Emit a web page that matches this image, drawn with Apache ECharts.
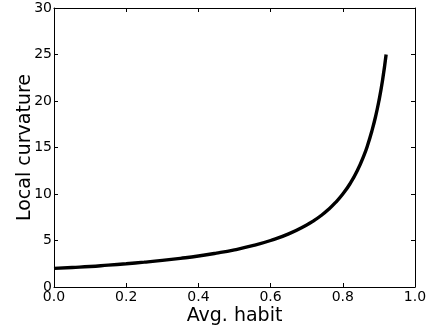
<!DOCTYPE html>
<html>
<head>
<meta charset="utf-8">
<script src="https://cdn.jsdelivr.net/npm/echarts@6/dist/echarts.min.js"></script>
<style>html,body{margin:0;padding:0;background:#fff}#c{width:435px;height:327px}</style>
</head>
<body>
<div id="c"></div>
<script>
var xValues = [0, 0.05, 0.1, 0.15, 0.2, 0.25, 0.3, 0.35, 0.4, 0.45, 0.5, 0.55, 0.6, 0.65, 0.7, 0.72, 0.74, 0.76, 0.78, 0.8, 0.82, 0.84, 0.86, 0.87, 0.88, 0.89, 0.9, 0.91, 0.92];
var yValues = [2.0, 2.1, 2.2, 2.35, 2.5, 2.67, 2.86, 3.08, 3.33, 3.64, 4.0, 4.44, 5.0, 5.71, 6.67, 7.14, 7.69, 8.33, 9.09, 10.0, 11.1, 12.5, 14.3, 15.4, 16.7, 18.2, 20.0, 22.2, 25.0];
var xTickLabels = ['0.0', '0.2', '0.4', '0.6', '0.8', '1.0'];
var yTickLabels = ['0', '5', '10', '15', '20', '25', '30'];
var xTitle = 'Avg. habit';
var yTitle = 'Local curvature';

var font = 'DejaVu Sans';
var data = xValues.map(function (x, i) { return [x, yValues[i]]; });
var chart = echarts.init(document.getElementById('c'), null, {renderer: 'canvas'});
var axLine = {show: true, onZero: false, lineStyle: {color: '#000', width: 1}};
var tick = {show: true, inside: true, length: 4, lineStyle: {color: '#000', width: 1}};
chart.setOption({
  animation: false,
  grid: {left: 54, right: 20, top: 8, bottom: 40, containLabel: false, outerBoundsMode: 'none'},
  xAxis: [{
    type: 'value', min: 0, max: 1, interval: 0.2, position: 'bottom',
    axisLine: axLine, axisTick: tick, splitLine: {show: false},
    axisLabel: {color: '#000', fontFamily: font, fontSize: 14, margin: 3,
      formatter: function (v) { return xTickLabels[Math.round(v / 0.2)]; }},
    name: xTitle, nameLocation: 'middle', nameGap: 20, nameMoveOverlap: false,
    nameTextStyle: {color: '#000', fontFamily: font, fontSize: 19}
  }, {
    type: 'value', min: 0, max: 1, interval: 0.2, position: 'top',
    axisLine: axLine, axisTick: tick, splitLine: {show: false}, axisLabel: {show: false}
  }],
  yAxis: [{
    type: 'value', min: 0, max: 30, interval: 5, position: 'left',
    axisLine: axLine, axisTick: tick, splitLine: {show: false},
    axisLabel: {color: '#000', fontFamily: font, fontSize: 14, margin: 2,
      formatter: function (v) { return yTickLabels[Math.round(v / 5)]; }},
    name: yTitle, nameLocation: 'middle', nameGap: 19, nameRotate: 90, nameMoveOverlap: false,
    nameTextStyle: {color: '#000', fontFamily: font, fontSize: 19}
  }, {
    type: 'value', min: 0, max: 30, interval: 5, position: 'right',
    axisLine: axLine, axisTick: tick, splitLine: {show: false}, axisLabel: {show: false}
  }],
  series: [{
    type: 'line', data: data, showSymbol: false, smooth: true,
    lineStyle: {color: '#000', width: 3.4}
  }]
});
</script>
</body>
</html>
